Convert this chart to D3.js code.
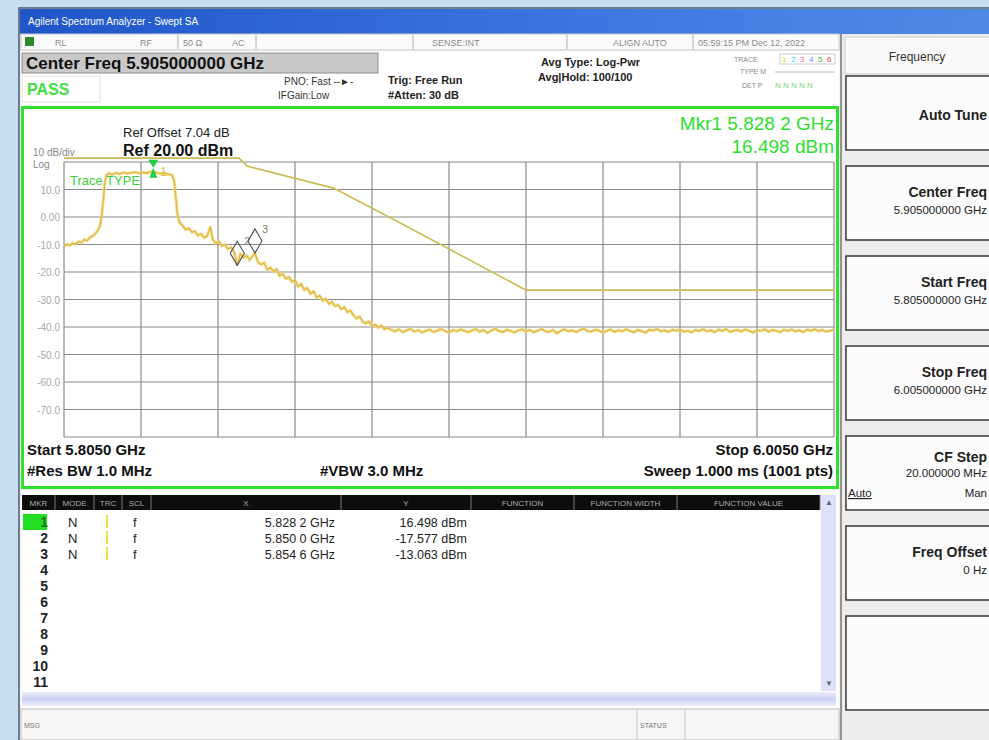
<!DOCTYPE html>
<html><head><meta charset="utf-8">
<script src="https://cdn.jsdelivr.net/npm/d3@7"></script>
<style>
body{margin:0;background:#c6def2;}
svg{display:block;font-family:"Liberation Sans",Arial,Helvetica,sans-serif;}
</style>
</head><body>
<svg id="c" width="989" height="740"></svg>
<script>
// ---------------- DATA ----------------
const xGridMHz = [5805,5825,5845,5865,5885,5905,5925,5945,5965,5985,6005];
const yGridDbm = [20,10,0,-10,-20,-30,-40,-50,-60,-70,-80];
const yTickValues = [10,0,-10,-20,-30,-40,-50,-60,-70];
const yTickLabels = ["10.0","0.00","-10.0","-20.0","-30.0","-40.0","-50.0","-60.0","-70.0"];

const traceMHz = [5805.0,5805.8,5806.5,5807.3,5808.0,5808.8,5809.5,5810.3,5811.0,5811.8,5812.5,5813.2,5813.8,5814.3,5814.8,5815.2,5815.6,5816.0,5816.6,5817.5,5818.5,5819.5,5820.5,5821.5,5822.5,5823.5,5824.5,5825.5,5826.5,5827.5,5828.2,5829.0,5830.0,5831.0,5832.0,5833.0,5833.6,5834.0,5834.4,5835.0,5835.8,5836.6,5837.4,5838.2,5839.0,5839.8,5840.6,5841.4,5842.2,5843.0,5843.6,5844.4,5845.2,5846.0,5846.8,5847.6,5848.4,5849.2,5850.0,5850.8,5851.6,5852.4,5853.2,5854.0,5854.6,5855.4,5856.2,5857.0,5857.8,5858.6,5859.4,5860.2,5861.0,5861.8,5862.6,5863.4,5864.2,5865.0,5865.8,5866.6,5867.4,5868.2,5869.0,5869.8,5870.6,5871.4,5872.2,5873.0,5873.8,5874.6,5875.4,5876.2,5877.0,5877.8,5878.6,5879.4,5880.2,5881.0,5881.8,5882.6,5883.4,5884.2,5885.0,5885.8,5886.6,5887.4,5888.2,5889.0];
const traceDbm = [-10.6,-9.9,-10.4,-9.5,-9.8,-8.9,-9.3,-8.2,-8.6,-7.4,-6.9,-6.0,-4.8,-3.5,0.5,6.0,12.5,15.2,15.9,15.4,16.0,15.7,16.2,15.8,16.1,16.3,15.9,16.2,16.0,16.4,16.5,16.1,15.8,16.0,15.6,15.3,13.5,8.0,1.5,-2.0,-3.2,-4.6,-4.1,-5.5,-5.2,-6.8,-6.1,-7.5,-6.9,-3.5,-8.2,-9.6,-8.8,-10.5,-10.0,-11.6,-11.0,-12.8,-17.6,-13.4,-14.8,-13.9,-15.6,-14.2,-13.1,-16.5,-17.3,-16.6,-19.2,-18.4,-19.8,-19.0,-21.4,-20.6,-22.5,-21.8,-23.6,-22.9,-25.3,-24.4,-26.5,-25.8,-27.9,-27.0,-29.3,-28.6,-30.4,-29.7,-31.6,-30.9,-32.4,-32.0,-33.5,-32.8,-34.6,-34.0,-35.8,-36.9,-36.2,-38.1,-38.7,-38.0,-39.6,-39.1,-40.2,-39.5,-40.8,-40.3];
// noise floor, one sweep bin per MHz from 5890 MHz
const floorStartMHz = 5890, floorStepMHz = 1;
const floorDbm = [-41.0,-41.6,-40.8,-41.9,-41.2,-40.6,-41.7,-41.1,-42.0,-41.4,
-40.9,-41.8,-41.3,-40.7,-41.5,-42.1,-41.0,-41.6,-40.9,-41.4,
-41.9,-41.2,-40.8,-41.7,-41.1,-42.2,-41.3,-40.6,-41.5,-41.8,
-41.0,-41.4,-42.0,-41.2,-40.9,-41.6,-41.1,-41.9,-41.3,-40.7,
-41.5,-41.8,-41.0,-42.3,-41.4,-40.8,-41.6,-41.2,-41.9,-41.1,
-40.6,-41.5,-41.7,-41.0,-41.3,-42.0,-41.4,-40.9,-41.8,-41.2,
-41.6,-40.8,-41.4,-41.9,-41.1,-41.5,-42.1,-41.0,-41.3,-40.7,
-41.6,-41.2,-41.8,-41.0,-41.4,-40.9,-41.7,-41.3,-42.0,-41.1,
-41.5,-40.8,-41.6,-41.2,-41.9,-41.0,-41.4,-40.7,-41.8,-41.3,
-41.1,-41.6,-40.9,-41.5,-42.0,-41.2,-41.4,-40.8,-41.7,-41.1,
-41.3,-41.9,-41.0,-41.5,-40.9,-41.6,-41.2,-41.8,-41.0,-41.4,
-40.8,-41.5,-41.1,-41.7,-41.3,-41.0];

const limitMHz = [5805,5850.5,5852.5,5875,5892,5925,6005];
const limitDbm = [21.4,21.4,18.5,10.5,-1.9,-26.6,-26.6];

const markerIds = ["1","2","3"];
const markerMHz = [5828.2,5850.0,5854.6];
const markerDbm = [16.498,-17.577,-13.063];
const markerXText = ["5.828 2 GHz","5.850 0 GHz","5.854 6 GHz"];
const markerYText = ["16.498 dBm","-17.577 dBm","-13.063 dBm"];
const tableRowIds = ["1","2","3","4","5","6","7","8","9","10","11"];
const tableHeaders = ["MKR","MODE","TRC","SCL","X","Y","FUNCTION","FUNCTION WIDTH","FUNCTION VALUE"];

const softkeyLabels = ["Auto Tune","Center Freq","Start Freq","Stop Freq","CF Step","Freq Offset",""];
const softkeyValues = ["","5.905000000 GHz","5.805000000 GHz","6.005000000 GHz","20.000000 MHz","0 Hz",""];

// ---------------- DRAW ----------------
const svg = d3.select("#c");
const defs = svg.append("defs");
const tg = defs.append("linearGradient").attr("id","tb");
tg.append("stop").attr("offset","0%").attr("stop-color","#1f55c9");
tg.append("stop").attr("offset","60%").attr("stop-color","#3d78e0");
tg.append("stop").attr("offset","100%").attr("stop-color","#4f8ae6");
const sg = defs.append("linearGradient").attr("id","sb").attr("x1",0).attr("x2",0).attr("y1",0).attr("y2",1);
sg.append("stop").attr("offset","0%").attr("stop-color","#eef0fd");
sg.append("stop").attr("offset","50%").attr("stop-color","#c9d0f6");
sg.append("stop").attr("offset","100%").attr("stop-color","#eef0fd");

// outer background / window
svg.append("rect").attr("width",989).attr("height",740).attr("fill","#c6def2");
svg.append("rect").attr("x",19).attr("y",8).attr("width",975).attr("height",740).attr("fill","#f3f3f3").attr("stroke","#4a5a6a").attr("stroke-width",1.5);
// title bar
svg.append("rect").attr("x",20).attr("y",9).attr("width",975).attr("height",25).attr("fill","url(#tb)");
svg.append("text").attr("x",28).attr("y",25).attr("fill","#fff").attr("font-size",10).text("Agilent Spectrum Analyzer - Swept SA");

// status row
svg.append("rect").attr("x",21).attr("y",34).attr("width",818).attr("height",16).attr("fill","#fbfbfb").attr("stroke","#c8c8c8");
svg.append("rect").attr("x",25).attr("y",37).attr("width",9).attr("height",9).attr("fill","#2a8a2a");
const stat = [["RL",55],["RF",140],["50 Ω",183],["AC",232],["SENSE:INT",432],["ALIGN AUTO",613],["05:59:15 PM Dec 12, 2022",698]];
svg.selectAll(".st").data(stat).enter().append("text").attr("x",d=>d[1]).attr("y",46).attr("font-size",9).attr("fill","#8a8a8a").text(d=>d[0]);
[178,256,413,567,693].forEach(x=>svg.append("line").attr("x1",x).attr("x2",x).attr("y1",35).attr("y2",49).attr("stroke","#b0b0b0"));

// header info area
svg.append("rect").attr("x",21).attr("y",51).attr("width",818).attr("height",56).attr("fill","#ffffff");
svg.append("rect").attr("x",22).attr("y",53).attr("width",356).attr("height",20).attr("fill","#c9c9c9").attr("stroke","#8c8c8c");
svg.append("text").attr("x",26).attr("y",69).attr("font-size",17).attr("font-weight","bold").attr("fill","#111").text("Center Freq 5.905000000 GHz");
svg.append("rect").attr("x",22).attr("y",76).attr("width",78).attr("height",26).attr("fill","#fff").attr("stroke","#e0e0e0");
svg.append("text").attr("x",27).attr("y",95).attr("font-size",16).attr("font-weight","bold").attr("fill","#3fe03f").text("PASS");
svg.append("text").attr("x",284).attr("y",85).attr("font-size",10).attr("fill","#333").text("PNO: Fast ‑‑►‑");
svg.append("text").attr("x",278).attr("y",99).attr("font-size",10).attr("fill","#333").text("IFGain:Low");
svg.append("text").attr("x",388).attr("y",84).attr("font-size",11).attr("font-weight","bold").attr("fill","#222").text("Trig: Free Run");
svg.append("text").attr("x",388).attr("y",99).attr("font-size",11).attr("font-weight","bold").attr("fill","#222").text("#Atten: 30 dB");
svg.append("text").attr("x",541).attr("y",66).attr("font-size",11).attr("font-weight","bold").attr("fill","#222").text("Avg Type: Log-Pwr");
svg.append("text").attr("x",538).attr("y",81).attr("font-size",11).attr("font-weight","bold").attr("fill","#222").text("Avg|Hold: 100/100");
// trace table mini
svg.append("text").attr("x",734).attr("y",62).attr("font-size",7).attr("fill","#888").text("TRACE");
const tcol = ["#e8d000","#30d8e8","#ff60c0","#6a8cff","#30c030","#e84040"];
tcol.forEach((c,i)=>svg.append("text").attr("x",782+i*9).attr("y",62).attr("font-size",8).attr("fill",c).text(String(i+1)));
svg.append("rect").attr("x",780).attr("y",54).attr("width",55).attr("height",10).attr("fill","none").attr("stroke","#ccc");
svg.append("text").attr("x",740).attr("y",74).attr("font-size",7).attr("fill","#888").text("TYPE M");
svg.append("line").attr("x1",775).attr("x2",835).attr("y1",72).attr("y2",72).attr("stroke","#bbb");
svg.append("text").attr("x",742).attr("y",88).attr("font-size",7).attr("fill","#888").text("DET P");
svg.append("text").attr("x",775).attr("y",88).attr("font-size",8).attr("fill","#7ad07a").text("N N N N N");

// plot panel
svg.append("rect").attr("x",22.5).attr("y",107.5).attr("width",815).attr("height",380).attr("fill","#ffffff").attr("stroke","#2fe02f").attr("stroke-width",3);

const L=64,R=834,T=162,B=437;
const x = d3.scaleLinear().domain([5805,6005]).range([L,R]);
const y = d3.scaleLinear().domain([-80,20]).range([B,T]);

const g = svg.append("g");
g.selectAll(".vg").data(xGridMHz).enter().append("line")
 .attr("x1",d=>x(d)).attr("x2",d=>x(d)).attr("y1",T).attr("y2",B).attr("stroke","#8a8a8a").attr("stroke-width",1.2);
g.selectAll(".hg").data(yGridDbm).enter().append("line")
 .attr("x1",L).attr("x2",R).attr("y1",d=>y(d)).attr("y2",d=>y(d)).attr("stroke","#8a8a8a").attr("stroke-width",1.2);
g.selectAll(".yl").data(yTickValues).enter().append("text")
 .attr("x",60).attr("y",d=>y(d)+4).attr("text-anchor","end").attr("font-size",10).attr("fill","#a8a8a8")
 .text((d,i)=>yTickLabels[i]);

// annotations
svg.append("text").attr("x",33).attr("y",156).attr("font-size",10).attr("fill","#888").text("10 dB/div");
svg.append("text").attr("x",33).attr("y",168).attr("font-size",10).attr("fill","#888").text("Log");
svg.append("text").attr("x",123).attr("y",137).attr("font-size",13).attr("fill","#222").text("Ref Offset 7.04 dB");
svg.append("text").attr("x",123).attr("y",156).attr("font-size",16).attr("font-weight","bold").attr("fill","#111").text("Ref 20.00 dBm");
svg.append("text").attr("x",834).attr("y",130).attr("text-anchor","end").attr("font-size",19).attr("fill","#2ee02e").text("Mkr1 5.828 2 GHz");
svg.append("text").attr("x",834).attr("y",153).attr("text-anchor","end").attr("font-size",19).attr("fill","#2ee02e").text("16.498 dBm");

// limit line
const limitLine = d3.line().x((d,i)=>x(limitMHz[i])).y((d,i)=>y(limitDbm[i]));
svg.append("path").attr("d",limitLine(limitMHz)).attr("fill","none").attr("stroke","#cbbb55").attr("stroke-width",1.6);

// trace
const pts = traceMHz.map((f,i)=>[f,traceDbm[i]]).concat(floorDbm.map((v,i)=>[floorStartMHz+i*floorStepMHz,v]));
const tl = d3.line().x(d=>x(d[0])).y(d=>y(d[1]));
svg.append("path").attr("d",tl(pts)).attr("fill","none").attr("stroke","#f2d98a").attr("stroke-width",3.2).attr("opacity",0.8);
svg.append("path").attr("d",tl(pts)).attr("fill","none").attr("stroke","#e0b83a").attr("stroke-width",1.3);

// markers
svg.append("text").attr("x",70).attr("y",185).attr("font-size",13).attr("fill","#3ccf3c").text("Trace TYPE");
markerIds.forEach((id,i)=>{
  const px=x(markerMHz[i]), py=y(markerDbm[i]);
  if(i===0){
    svg.append("path").attr("d",`M${px-5},${py-12}L${px+5},${py-12}L${px},${py-4}Z M${px},${py-4}L${px-4},${py+6}L${px+4},${py+6}Z`).attr("fill","#22cc44");
    svg.append("text").attr("x",px+7).attr("y",py+4).attr("font-size",12).attr("fill","#e8c040").text(id);
  } else {
    svg.append("path").attr("d",`M${px},${py}L${px+7},${py-12}L${px},${py-24}L${px-7},${py-12}Z`).attr("fill","none").attr("stroke","#4a4a5a").attr("stroke-width",1.1);
    svg.append("text").attr("x",px+7).attr("y",py-20).attr("font-size",11).attr("fill","#8a8050").text(id);
  }
});

// bottom annotations
svg.append("text").attr("x",27).attr("y",455).attr("font-size",15).attr("font-weight","bold").attr("fill","#111").text("Start 5.8050 GHz");
svg.append("text").attr("x",27).attr("y",476).attr("font-size",15).attr("font-weight","bold").attr("fill","#111").text("#Res BW 1.0 MHz");
svg.append("text").attr("x",320).attr("y",476).attr("font-size",15).attr("font-weight","bold").attr("fill","#111").text("#VBW 3.0 MHz");
svg.append("text").attr("x",833).attr("y",455).attr("text-anchor","end").attr("font-size",15).attr("font-weight","bold").attr("fill","#111").text("Stop 6.0050 GHz");
svg.append("text").attr("x",833).attr("y",476).attr("text-anchor","end").attr("font-size",15).attr("font-weight","bold").attr("fill","#111").text("Sweep  1.000 ms (1001 pts)");

// marker table
svg.append("rect").attr("x",21).attr("y",490).attr("width",818).attr("height",218).attr("fill","#ffffff");
const colEdges = [22,55,94,122,151,341,471,574,677,820];
svg.append("rect").attr("x",22).attr("y",495).attr("width",798).attr("height",15).attr("fill","#0d0d0d");
tableHeaders.forEach((h,i)=>{
  svg.append("line").attr("x1",colEdges[i+1]).attr("x2",colEdges[i+1]).attr("y1",495).attr("y2",510).attr("stroke","#777");
  svg.append("text").attr("x",(colEdges[i]+colEdges[i+1])/2).attr("y",506).attr("text-anchor","middle").attr("font-size",8).attr("fill","#aaa").text(h);
});
const rowY = d3.scaleLinear().domain([0,10]).range([527,687]);
svg.append("rect").attr("x",23).attr("y",514).attr("width",24).attr("height",16).attr("fill","#22dd22");
tableRowIds.forEach((id,i)=>{
  svg.append("text").attr("x",48).attr("y",rowY(i)).attr("text-anchor","end").attr("font-size",14).attr("font-weight","bold").attr("fill",i===0?"#1a7a1a":"#222").text(id);
});
markerIds.forEach((id,i)=>{
  const yy=rowY(i);
  svg.append("text").attr("x",68).attr("y",yy).attr("font-size",13).attr("fill","#222").text("N");
  svg.append("rect").attr("x",106).attr("y",yy-12).attr("width",2).attr("height",13).attr("fill","#f0e040");
  svg.append("text").attr("x",133).attr("y",yy).attr("font-size",13).attr("fill","#222").text("f");
  svg.append("text").attr("x",335).attr("y",yy).attr("text-anchor","end").attr("font-size",12.5).attr("fill","#222").text(markerXText[i]);
  svg.append("text").attr("x",467).attr("y",yy).attr("text-anchor","end").attr("font-size",12.5).attr("fill","#222").text(markerYText[i]);
});
svg.append("rect").attr("x",821).attr("y",495).attr("width",15).attr("height",196).attr("fill","#dde2fa");
svg.append("rect").attr("x",22).attr("y",692).attr("width",814).attr("height",14).attr("fill","url(#sb)");
svg.append("text").attr("x",825).attr("y",505).attr("font-size",8).attr("fill","#666").text("▲");
svg.append("text").attr("x",825).attr("y",686).attr("font-size",8).attr("fill","#666").text("▼");

// status bar
svg.append("rect").attr("x",21).attr("y",709).attr("width",818).attr("height",31).attr("fill","#f6f6f6").attr("stroke","#bbb");
svg.append("text").attr("x",24).attr("y",728).attr("font-size",7).attr("fill","#777").text("MSG");
svg.append("line").attr("x1",637).attr("x2",637).attr("y1",710).attr("y2",740).attr("stroke","#ccc");
svg.append("line").attr("x1",685).attr("x2",685).attr("y1",710).attr("y2",740).attr("stroke","#ccc");
svg.append("text").attr("x",640).attr("y",728).attr("font-size",7).attr("fill","#777").text("STATUS");

// right softkey panel
svg.append("rect").attr("x",841).attr("y",34).attr("width",150).attr("height",706).attr("fill","#ededed");
svg.append("line").attr("x1",841).attr("x2",841).attr("y1",34).attr("y2",740).attr("stroke","#555").attr("stroke-width",1.2);
svg.append("rect").attr("x",845).attr("y",37).attr("width",150).attr("height",37).attr("fill","#f9f9f9").attr("stroke","#d0d0d0");
svg.append("text").attr("x",917).attr("y",61).attr("text-anchor","middle").attr("font-size",12).attr("fill","#333").text("Frequency");
softkeyLabels.forEach((lab,i)=>{
  const top = 76 + i*90, h = (i===6)?94:74;
  svg.append("rect").attr("x",846).attr("y",top).attr("width",150).attr("height",h).attr("fill","#fcfcfc").attr("stroke","#2a2a2a").attr("stroke-width",1.4);
  const v = softkeyValues[i];
  if(lab && !v){
    svg.append("text").attr("x",987).attr("y",top+44).attr("text-anchor","end").attr("font-size",14).attr("font-weight","bold").attr("fill","#222").text(lab);
  } else if(lab==="CF Step"){
    svg.append("text").attr("x",987).attr("y",top+26).attr("text-anchor","end").attr("font-size",14).attr("font-weight","bold").attr("fill","#222").text(lab);
    svg.append("text").attr("x",987).attr("y",top+41).attr("text-anchor","end").attr("font-size",11.5).attr("fill","#222").text(v);
    svg.append("text").attr("x",848).attr("y",top+61).attr("font-size",11.5).attr("fill","#222").attr("text-decoration","underline").text("Auto");
    svg.append("text").attr("x",987).attr("y",top+61).attr("text-anchor","end").attr("font-size",11.5).attr("fill","#222").text("Man");
  } else if(lab){
    svg.append("text").attr("x",987).attr("y",top+31).attr("text-anchor","end").attr("font-size",14).attr("font-weight","bold").attr("fill","#222").text(lab);
    svg.append("text").attr("x",987).attr("y",top+48).attr("text-anchor","end").attr("font-size",11.5).attr("fill","#222").text(v);
  }
});
</script>
</body></html>
